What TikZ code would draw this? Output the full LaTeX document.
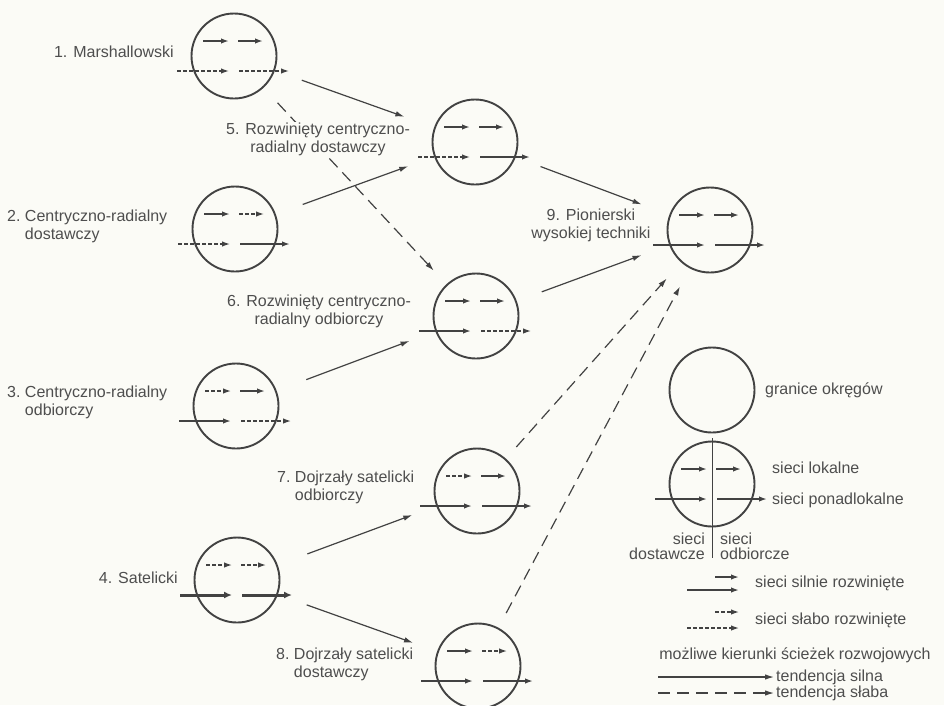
\documentclass[tikz,border=0pt]{standalone}
\usepackage{fontspec}
\setmainfont{Liberation Sans}
\usetikzlibrary{arrows.meta,calc}
\definecolor{bg}{RGB}{251,251,246}
\definecolor{ink}{RGB}{66,66,66}
\definecolor{txt}{RGB}{78,78,78}
\newcommand\netsym[6]{%
  \node[circ] (#1) at (#2) {};
  \draw[#3] ([shift={(-31,-15)}]#1.center) -- ([shift={(-5,-15)}]#1.center);
  \draw[#4] ([shift={(4,-15)}]#1.center) -- ([shift={(29,-15)}]#1.center);
  \draw[#5] ([shift={(-57,15)}]#1.center) -- ([shift={(-5,15)}]#1.center);
  \draw[#6] ([shift={(5,15)}]#1.center) -- ([shift={(55,15)}]#1.center);
}
\begin{document}
\begin{tikzpicture}[x=1pt,y=-1pt,
  circ/.style={circle, draw=ink, line width=1.9pt, minimum size=85pt, inner sep=0pt},
  strongnet/.style={draw=ink, line width=1.6pt, -{Latex[length=8pt,width=5.5pt]}},
  weaknet/.style={strongnet, line width=1.3pt, dash pattern=on 3.5pt off 2.5pt},
  thicknet/.style={draw=ink, line width=3pt, -{Latex[length=8pt,width=7pt]}},
  conn/.style={draw=ink, line width=1.2pt, -{Latex[length=9pt,width=5.5pt]}},
  connw/.style={conn, dash pattern=on 12pt off 7pt},
  lab/.style={font=\fontsize{16}{18}\selectfont, text=txt, inner sep=1pt}]
\fill[bg] (0,0) rectangle (944,705);
\useasboundingbox (0,0) rectangle (944,705);

% circles with local/supralocal networks
\netsym{c1}{234,56}{strongnet}{strongnet}{weaknet}{weaknet}
\netsym{c2}{235,229}{strongnet}{weaknet}{weaknet}{strongnet}
\netsym{c3}{236,406}{weaknet}{strongnet}{strongnet}{weaknet}
\netsym{c4}{237,580}{weaknet}{weaknet}{thicknet}{thicknet}
\netsym{c5}{475,142}{strongnet}{strongnet}{weaknet}{strongnet}
\netsym{c6}{476,316}{strongnet}{strongnet}{strongnet}{weaknet}
\netsym{c7}{477,491}{weaknet}{strongnet}{strongnet}{strongnet}
\netsym{c8}{478,666}{strongnet}{weaknet}{strongnet}{strongnet}
\netsym{c9}{710,230}{strongnet}{strongnet}{strongnet}{strongnet}

% connectors
\draw[conn, shorten <=72pt, shorten >=75pt] (c1.center) -- (c5.center);
\draw[connw, shorten <=64pt, shorten >=62pt] (c1.center) -- (c6.center);
\draw[conn, shorten <=72pt, shorten >=71pt] (c2.center) -- (c5.center);
\draw[conn, shorten <=75pt, shorten >=71pt] (c3.center) -- (c6.center);
\draw[conn, shorten <=75pt, shorten >=69pt] (c4.center) -- (c7.center);
\draw[conn, shorten <=74pt, shorten >=69pt] (c4.center) -- (c8.center);
\draw[conn, shorten <=70pt, shorten >=73pt] (c5.center) -- (c9.center);
\draw[conn, shorten <=70pt, shorten >=73pt] (c6.center) -- (c9.center);
\draw[connw, shorten <=59pt, shorten >=65pt] (c7.center) -- (c9.center);
\draw[connw, shorten <=60pt, shorten >=64pt] (c8.center) -- (c9.center);

% labels
\node[lab, anchor=east] (t1) at (175,52) {1. Marshallowski};
\node[lab, anchor=west, align=left] (t2) at (6,226) {2.\ Centryczno-radialny\\\hphantom{2.\ }dostawczy};
\node[lab, anchor=west, align=left] (t3) at (6,402) {3.\ Centryczno-radialny\\\hphantom{3.\ }odbiorczy};
\node[lab, anchor=east] (t4) at (179,578) {4. Satelicki};
\node[lab, align=center, fill=bg] (t5) at (318,139) {5. Rozwinięty centryczno-\\radialny dostawczy};
\node[lab, align=center] (t6) at (319,311) {6. Rozwinięty centryczno-\\radialny odbiorczy};
\node[lab, anchor=west, align=left] (t7) at (276,487) {7.\ Dojrzały satelicki\\\hphantom{7.\ }odbiorczy};
\node[lab, anchor=west, align=left] (t8) at (275,664) {8.\ Dojrzały satelicki\\\hphantom{8.\ }dostawczy};
\node[lab, align=center] (t9) at (591,225) {9. Pionierski\\wysokiej techniki};

% legend
\node[circ] (g1) at (712,390) {};
\node[lab, anchor=west] (lg1) at (764,390) {granice okręgów};
\netsym{g2}{712,484}{strongnet}{strongnet}{strongnet}{strongnet}
\draw[draw=ink, line width=0.9pt] ([shift={(0,-46)}]g2.center) -- ([shift={(0,74)}]g2.center);
\node[lab, anchor=west] (lg2) at (771,468) {sieci lokalne};
\node[lab, anchor=west] (lg3) at (771,500) {sieci ponadlokalne};
\node[lab, anchor=east, align=right, font=\fontsize{16}{15}\selectfont] (lg4) at (706,546) {sieci\\dostawcze};
\node[lab, anchor=west, align=left, font=\fontsize{16}{15}\selectfont] (lg5) at (719,546) {sieci\\odbiorcze};

\coordinate (a1s) at (715,577); \coordinate (a1e) at (739,577);
\coordinate (a2s) at (687,590); \coordinate (a2e) at (739,590);
\draw[strongnet] (a1s) -- (a1e);
\draw[strongnet] (a2s) -- (a2e);
\node[lab, anchor=west] (lg6) at (754,583) {sieci silnie rozwinięte};
\coordinate (a3s) at (715,612); \coordinate (a3e) at (739,612);
\coordinate (a4s) at (687,628); \coordinate (a4e) at (739,628);
\draw[weaknet] (a3s) -- (a3e);
\draw[weaknet] (a4s) -- (a4e);
\node[lab, anchor=west] (lg7) at (754,620) {sieci słabo rozwinięte};
\node[lab] (lg8) at (795,655) {możliwe kierunki ścieżek rozwojowych};
\node[lab, anchor=west] (lg9) at (775,677) {tendencja silna};
\node[lab, anchor=west] (lg10) at (775,693) {tendencja słaba};
\coordinate (a5s) at (658,677);
\coordinate (a6s) at (658,693);
\draw[conn, shorten >=1pt] (a5s) -- (lg9.west);
\draw[connw, shorten >=1pt] (a6s) -- (lg10.west);
\end{tikzpicture}
\end{document}
